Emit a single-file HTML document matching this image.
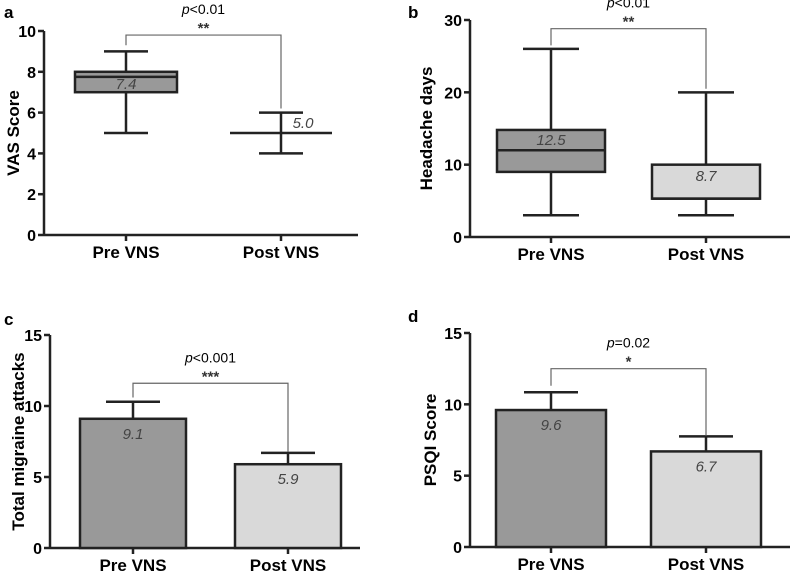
<!DOCTYPE html>
<html><head><meta charset="utf-8"><style>
body{margin:0;background:#fff}
svg{font-family:"Liberation Sans",Arial,sans-serif}
</style></head><body>
<svg id="s" width="797" height="576"></svg>
<script>
const categories=["Pre VNS","Post VNS"];
// panel a (box)
const aMin=[5,4], aQ1=[7,5], aMed=[7.75,5], aQ3=[8,5], aMax=[9,6], aMean=["7.4","5.0"];
// panel b (box)
const bMin=[3,3], bQ1=[9,5.3], bMed=[12,5.3], bQ3=[14.8,10], bMax=[26,20], bMean=["12.5","8.7"];
// panel c (bar)
const cVal=[9.1,5.9], cErr=[10.3,6.7], cLbl=["9.1","5.9"];
// panel d (bar)
const dVal=[9.6,6.7], dErr=[10.85,7.75], dLbl=["9.6","6.7"];
const aTicks=[0,2,4,6,8,10], bTicks=[0,10,20,30], cTicks=[0,5,10,15], dTicks=[0,5,10,15];

const S=document.getElementById('s');const NS="http://www.w3.org/2000/svg";
function el(t,a,txt,name){const e=document.createElementNS(NS,t);for(const k in a)e.setAttribute(k,a[k]);if(txt!=null)e.textContent=txt;


S.appendChild(e);return e;}
function panel(p){
 const y=v=>p.y0-(v-p.min)/(p.max-p.min)*(p.y0-p.y1);
 const xs=p.cx;
 el('text',{x:p.lx,y:p.ly,'font-size':17,'font-weight':'bold'},p.letter,'panel-letter');
 el('line',{x1:p.ax,y1:p.y1,x2:p.ax,y2:p.y0+1,stroke:'#222','stroke-width':2.5},null,'y-axis');
 el('line',{x1:p.ax,y1:p.y0,x2:p.axEnd,y2:p.y0,stroke:'#222','stroke-width':2.5},null,'x-axis');
 p.ticks.forEach(t=>{el('line',{x1:p.ax-6,y1:y(t),x2:p.ax,y2:y(t),stroke:'#222','stroke-width':2.5},null,'y-tick');
  el('text',{x:p.ax-8,y:y(t)+6,'font-size':16,'font-weight':'bold','text-anchor':'end'},t,'y-tick-label');});
 el('text',{transform:`translate(${p.tx},${(p.y0+p.y1)/2}) rotate(-90)`,'font-size':17,'font-weight':'bold','text-anchor':'middle'},p.title,'y-axis-title');
 categories.forEach((c,i)=>{el('line',{x1:xs[i],y1:p.y0,x2:xs[i],y2:p.y0+6,stroke:'#222','stroke-width':2.5},null,'x-tick');
  el('text',{x:xs[i],y:p.y0+23,'font-size':17,'font-weight':'bold','text-anchor':'middle'},c,'x-tick-label');});
 const hw=p.hw, fills=['#999','#d9d9d9'];
 if(p.type==='box'){
  categories.forEach((c,i)=>{
   el('line',{x1:xs[i],y1:y(p.mn[i]),x2:xs[i],y2:y(p.mx[i]),stroke:'#222','stroke-width':2.5},null,'whisker');
   [p.mn[i],p.mx[i]].forEach(v=>el('line',{x1:xs[i]-p.cw,y1:y(v),x2:xs[i]+p.cw,y2:y(v),stroke:'#222','stroke-width':2.5},null,'whisker-cap'));
   el('rect',{x:xs[i]-hw,y:y(p.q3[i]),width:2*hw,height:Math.max(0,y(p.q1[i])-y(p.q3[i])),fill:fills[i],stroke:'#222','stroke-width':2.5},null,'box-'+i);
   el('line',{x1:xs[i]-hw,y1:y(p.md[i]),x2:xs[i]+hw,y2:y(p.md[i]),stroke:'#222','stroke-width':2.5},null,'median-line');
   el('text',{x:xs[i]+p.mOff[i],y:p.mY[i],'font-size':15,'font-style':'italic',fill:'#444','text-anchor':'middle'},p.lab[i],'mean-label');
  });
 } else {
  categories.forEach((c,i)=>{
   el('line',{x1:xs[i],y1:y(p.v[i]),x2:xs[i],y2:y(p.e[i]),stroke:'#222','stroke-width':2.5},null,'error-bar');
   el('line',{x1:xs[i]-p.cw,y1:y(p.e[i]),x2:xs[i]+p.cw,y2:y(p.e[i]),stroke:'#222','stroke-width':2.5},null,'error-cap');
   el('rect',{x:xs[i]-hw,y:y(p.v[i]),width:2*hw,height:p.y0-y(p.v[i]),fill:fills[i],stroke:'#222','stroke-width':2.5},null,'bar-'+i);
   el('text',{x:xs[i],y:y(p.v[i])+20,'font-size':15,'font-style':'italic',fill:'#444','text-anchor':'middle'},p.lab[i],'bar-label');
  });
 }
 const by=y(p.br[0]);
 el('polyline',{points:`${xs[0]},${y(p.br[1])} ${xs[0]},${by} ${xs[1]},${by} ${xs[1]},${y(p.br[2])}`,fill:'none',stroke:'#666','stroke-width':1.2},null,'significance-bracket');
 const mx=(xs[0]+xs[1])/2;
 const pt=el('text',{x:mx,y:by-21,'font-size':14,'text-anchor':'middle'},null,'p-value');
 const ts=document.createElementNS(NS,'tspan');ts.setAttribute('font-style','italic');ts.textContent='p';pt.appendChild(ts);pt.appendChild(document.createTextNode(p.pv));
 el('text',{x:mx,y:by-2,'font-size':15,'font-weight':'bold','text-anchor':'middle',fill:'#333'},p.stars,'significance-stars');
}
panel({type:'box',letter:'a',lx:4,ly:18,ax:44,axEnd:358,y0:235,y1:31,min:0,max:10,ticks:aTicks,title:'VAS Score',tx:19,cx:[126,281],hw:51,cw:22,
 mn:aMin,q1:aQ1,md:aMed,q3:aQ3,mx:aMax,lab:aMean,mOff:[0,22],mY:[89,128],br:[9.8,9.3,6.2],pv:'<0.01',stars:'**'});
panel({type:'box',letter:'b',lx:408,ly:18,ax:470,axEnd:790,y0:237,y1:20,min:0,max:30,ticks:bTicks,title:'Headache days',tx:432,cx:[551,706],hw:54,cw:28,
 mn:bMin,q1:bQ1,md:bMed,q3:bQ3,mx:bMax,lab:bMean,mOff:[0,0],mY:[145,181],br:[28.8,26.5,20.5],pv:'<0.01',stars:'**'});
panel({type:'bar',letter:'c',lx:4,ly:325,ax:50,axEnd:360,y0:548,y1:335,min:0,max:15,ticks:cTicks,title:'Total migraine attacks',tx:24,cx:[133,288],hw:53,cw:27,
 v:cVal,e:cErr,lab:cLbl,br:[11.6,10.6,6.8],pv:'<0.001',stars:'***'});
panel({type:'bar',letter:'d',lx:408,ly:322,ax:470,axEnd:790,y0:547,y1:333,min:0,max:15,ticks:dTicks,title:'PSQI Score',tx:436,cx:[551,706],hw:55,cw:27,
 v:dVal,e:dErr,lab:dLbl,br:[12.5,11.3,7.8],pv:'=0.02',stars:'*'});
</script>
</body></html>
